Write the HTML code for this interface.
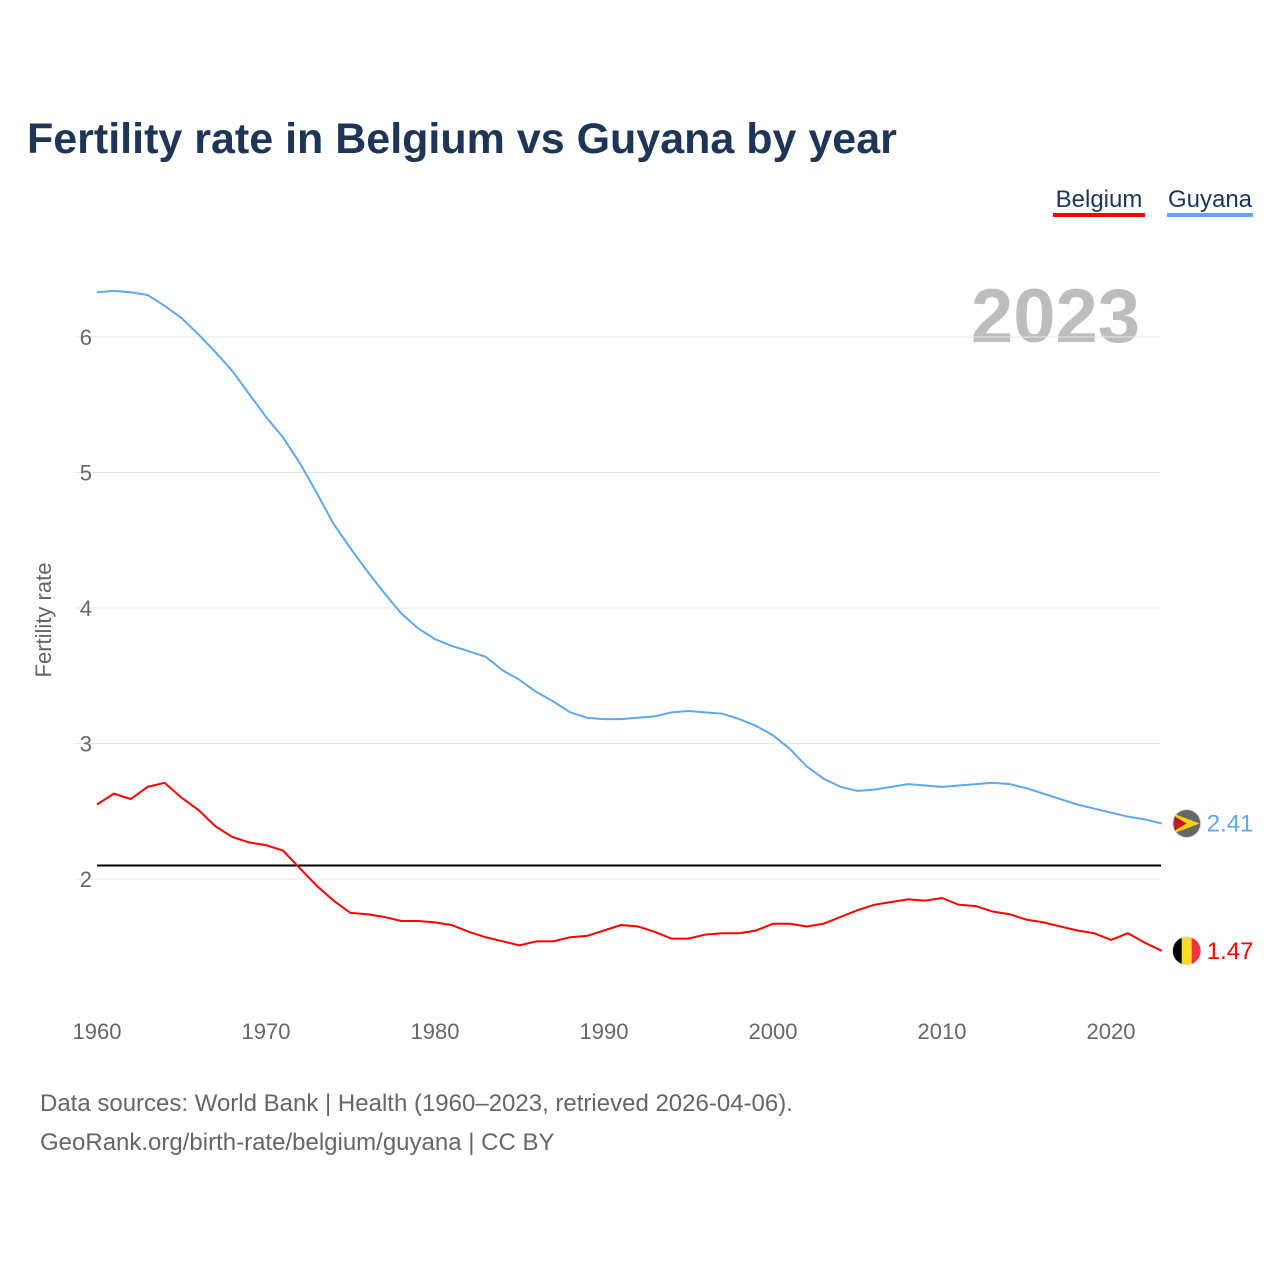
<!DOCTYPE html>
<html><head><meta charset="utf-8"><style>
body{margin:0;background:#fff;width:1280px;height:1280px;overflow:hidden;font-family:"Liberation Sans",sans-serif}
</style></head><body>
<svg width="1280" height="1280" id="svg">
<text x="27" y="153" font-size="43" font-weight="bold" fill="#1d3557">Fertility rate in Belgium vs Guyana by year</text>
<g><text x="1099" y="207" font-size="24" fill="#1d3557" text-anchor="middle">Belgium</text><rect x="1053" y="213" width="92" height="4" fill="#ff0000"/></g>
<g><text x="1210" y="207" font-size="24" fill="#1d3557" text-anchor="middle">Guyana</text><rect x="1167" y="213" width="86" height="4" fill="#5fa8ee"/></g>
<text x="1140" y="342" font-size="76" font-weight="bold" fill="#bdbdbd" text-anchor="end">2023</text>
<text transform="translate(51,620) rotate(-90)" font-size="22" fill="#666" text-anchor="middle">Fertility rate</text>
<g id="grid"></g><g id="marks"></g>
<text x="40" y="1111" font-size="24" fill="#666">Data sources: World Bank | Health (1960–2023, retrieved 2026-04-06).</text>
<text x="40" y="1150" font-size="24" fill="#666">GeoRank.org/birth-rate/belgium/guyana | CC BY</text>
</svg>
<script>
const years=[];for(let y=1960;y<=2023;y++)years.push(y);
const guyana=[6.33,6.34,6.33,6.31,6.23,6.14,6.02,5.89,5.75,5.58,5.41,5.26,5.07,4.85,4.62,4.44,4.27,4.11,3.96,3.85,3.77,3.72,3.68,3.64,3.54,3.47,3.38,3.31,3.23,3.19,3.18,3.18,3.19,3.20,3.23,3.24,3.23,3.22,3.18,3.13,3.06,2.96,2.83,2.74,2.68,2.65,2.66,2.68,2.70,2.69,2.68,2.69,2.70,2.71,2.70,2.67,2.63,2.59,2.55,2.52,2.49,2.46,2.44,2.41];
const belgium=[2.55,2.63,2.59,2.68,2.71,2.60,2.51,2.39,2.31,2.27,2.25,2.21,2.08,1.95,1.84,1.75,1.74,1.72,1.69,1.69,1.68,1.66,1.61,1.57,1.54,1.51,1.54,1.54,1.57,1.58,1.62,1.66,1.65,1.61,1.56,1.56,1.59,1.60,1.60,1.62,1.67,1.67,1.65,1.67,1.72,1.77,1.81,1.83,1.85,1.84,1.86,1.81,1.80,1.76,1.74,1.70,1.68,1.65,1.62,1.60,1.55,1.60,1.53,1.47];
const yTicks=[2,3,4,5,6];
const xTicks=[1960,1970,1980,1990,2000,2010,2020];
const replacement=2.1;
const X=y=>97+(y-1960)*16.9, Y=v=>879-(v-2)*135.5;
const NS="http://www.w3.org/2000/svg";
function mk(t,a,p){const e=document.createElementNS(NS,t);for(const k in a)e.setAttribute(k,a[k]);p.appendChild(e);return e;}
const grid=document.getElementById('grid'),marks=document.getElementById('marks');
yTicks.forEach(v=>{const l=mk('line',{x1:75,x2:1161,y1:Y(v),y2:Y(v),stroke:'#e5e5e5','stroke-width':1},grid);


const t=mk('text',{x:92,y:Y(v)+8,'font-size':22,fill:'#666','text-anchor':'end'},grid);t.textContent=v;

});
xTicks.forEach(v=>{const t=mk('text',{x:X(v),y:1039,'font-size':22,fill:'#666','text-anchor':'middle'},grid);t.textContent=v;

});
const rl=mk('line',{x1:97,x2:1161,y1:Y(replacement),y2:Y(replacement),stroke:'#000','stroke-width':2},marks);


[[guyana,'#5fa8ee','guyana'],[belgium,'#ff0000','belgium']].forEach(([d,c,n])=>{
const p=mk('path',{d:d.map((v,i)=>(i?'L':'M')+X(years[i])+','+Y(v)).join(''),fill:'none',stroke:c,'stroke-width':2},marks);


const last=d[d.length-1],cx=X(2023)+25,cy=Y(last);
const f=mk('circle',{cx:cx,cy:cy,r:14,fill:n=='belgium'?'#fdda24':'#666',stroke:'#ddd'},marks);


if(n=='belgium'){mk('path',{d:`M${cx-5},${cy-13}A14,14 0 0 0 ${cx-5},${cy+13}Z`,fill:'#000'},marks);mk('path',{d:`M${cx+5},${cy-13}A14,14 0 0 1 ${cx+5},${cy+13}Z`,fill:'#ef3340'},marks);}
else{mk('path',{d:`M${cx-11},${cy-9}L${cx+13},${cy}L${cx-11},${cy+9}Z`,fill:'#fcd116'},marks);mk('path',{d:`M${cx-12},${cy-7}L${cx},${cy}L${cx-12},${cy+7}Z`,fill:'#ce1126'},marks);}
const t=mk('text',{x:cx+20,y:cy+8,'font-size':24,fill:c},marks);t.textContent=last.toFixed(2);

});
</script></body></html>
